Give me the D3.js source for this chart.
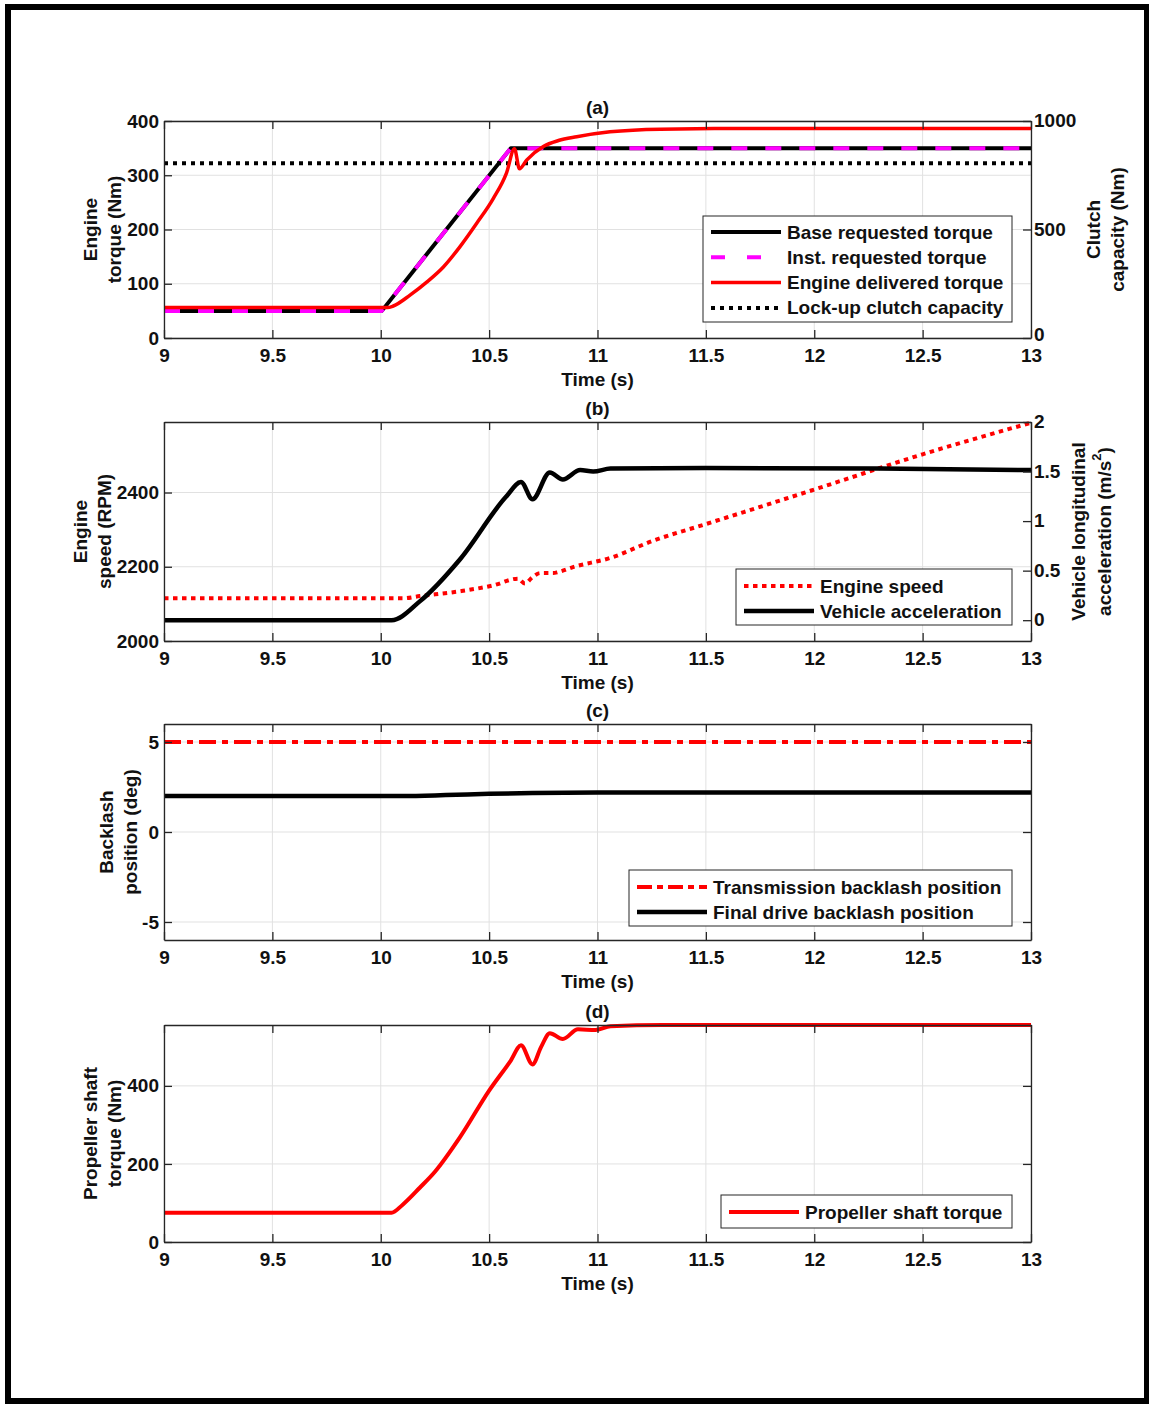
<!DOCTYPE html>
<html>
<head>
<meta charset="utf-8">
<script src="https://cdn.jsdelivr.net/npm/d3@7/dist/d3.min.js"></script>
<style>
  html, body { margin: 0; padding: 0; background: #fff; }
  svg { display: block; font-family: "Liberation Sans", Arial, sans-serif; font-weight: bold; }
</style>
</head>
<body>
<svg id="chart" width="1149" height="1404"></svg>
<script>
// ---- shared time axis ----
const timeDomain = [9, 13];
const timeTicks = [9, 9.5, 10, 10.5, 11, 11.5, 12, 12.5, 13];

// ---- (a) engine torque / clutch capacity ----
const reqTime = [9, 10.005, 10.6, 13];
const baseRequestedTorque = [50, 50, 350, 350];
const instRequestedTorque = [50, 50, 350, 350];
const delTime = [9, 10.03, 10.058, 10.135, 10.212, 10.289, 10.365, 10.442, 10.519, 10.58, 10.617, 10.64, 10.673, 10.75, 10.82, 10.904, 11.058, 11.289, 11.6, 13];
const engineDeliveredTorque = [56, 56, 59, 79, 103, 131, 168, 211, 257, 304, 349, 312, 328, 353, 364, 371, 380, 385, 386, 386];
const clutchTime = [9, 13];
const lockupClutchCapacity = [805, 805];
const torqueTicks = [0, 100, 200, 300, 400];
const clutchTicks = [0, 500, 1000];

// ---- (b) engine speed / vehicle acceleration ----
const speedTime = [9, 10.1, 10.18, 10.365, 10.52, 10.633, 10.665, 10.7, 10.735, 10.795, 10.82, 10.887, 11.06, 11.256, 11.5, 12, 12.5, 13];
const engineSpeed = [2115, 2115, 2121, 2134, 2150, 2168, 2155, 2172, 2183, 2183, 2186, 2199, 2224, 2270, 2315, 2408, 2503, 2588];
const accelTime = [9, 10.05, 10.18, 10.365, 10.58, 10.647, 10.7, 10.78, 10.84, 10.92, 10.98, 11.06, 11.5, 12.3, 13];
const vehicleAccel = [0, 0, 0.19, 0.613, 1.25, 1.394, 1.22, 1.49, 1.42, 1.515, 1.5, 1.53, 1.535, 1.53, 1.515];
const speedTicks = [2000, 2200, 2400];
const accelTicks = [0, 0.5, 1, 1.5, 2];

// ---- (c) backlash positions ----
const transTime = [9, 13];
const transBacklash = [5, 5];
const fdTime = [9, 10.1, 10.3, 10.5, 10.7, 11, 13];
const finalDriveBacklash = [2.0, 2.0, 2.05, 2.12, 2.17, 2.2, 2.2];
const backlashTicks = [-5, 0, 5];

// ---- (d) propeller shaft torque ----
const propTime = [9, 10.05, 10.1, 10.18, 10.25, 10.365, 10.5, 10.6, 10.647, 10.7, 10.74, 10.78, 10.84, 10.91, 10.99, 11.06, 11.3, 13];
const propellerTorque = [75, 75, 95, 139, 180, 268, 388, 465, 504, 455, 500, 535, 520, 545, 543, 553, 556, 556];
const propTicks = [0, 200, 400];

// ---- drawing ----
const svg = d3.select("#chart");
const AX = "#262626";
const GRID = "#e1e1e1";
const FONT = 19;
const left = 164, right = 1031;
const x = d3.scaleLinear(timeDomain, [left, right]);
const fmt = d => String(d);
const zip = (a, b) => a.map((v, i) => [v, b[i]]);

// outer figure frame
svg.append("rect").attr("x", 8).attr("y", 7).attr("width", 1139).attr("height", 1394)
  .attr("fill", "none").attr("stroke", "#000").attr("stroke-width", 6);

function panel(cfg) {
  const g = svg.append("g");
  const y = d3.scaleLinear(cfg.yDomain, [cfg.bottom, cfg.top]);
  const y2 = cfg.y2Domain ? d3.scaleLinear(cfg.y2Domain, [cfg.bottom, cfg.top]) : null;

  // grid
  const grid = g.append("g").attr("stroke", GRID).attr("stroke-width", 1);
  timeTicks.forEach(t => grid.append("line").attr("x1", x(t)).attr("x2", x(t)).attr("y1", cfg.top).attr("y2", cfg.bottom));
  cfg.yTicks.forEach(v => grid.append("line").attr("x1", left).attr("x2", right).attr("y1", y(v)).attr("y2", y(v)));

  // series
  const lines = g.append("g").attr("fill", "none").attr("stroke-linejoin", "round");
  cfg.series.forEach(s => {
    const sc = s.right ? y2 : y;
    const gen = d3.line().x(d => x(d[0])).y(d => sc(d[1])).curve(s.curve || d3.curveMonotoneX);
    lines.append("path").attr("d", gen(zip(s.t, s.v)))
      .attr("stroke", s.color).attr("stroke-width", s.width)
      .attr("stroke-dasharray", s.dash || null)
      .attr("stroke-linecap", s.cap || "butt");
  });

  // axes
  const styleAxis = sel => {
    sel.select(".domain").attr("stroke", AX).attr("stroke-width", 1.3);
    sel.selectAll(".tick line").attr("stroke", AX).attr("stroke-width", 1.3);
    sel.selectAll("text").attr("fill", "#111").attr("font-size", FONT).attr("font-weight", "bold")
      .attr("font-family", "'Liberation Sans', Arial, sans-serif");
  };
  g.append("g").attr("transform", `translate(0,${cfg.bottom})`)
    .call(d3.axisBottom(x).tickValues(timeTicks).tickFormat(fmt).tickSizeInner(-8).tickSizeOuter(0).tickPadding(11))
    .call(styleAxis);
  g.append("g").attr("transform", `translate(0,${cfg.top})`)
    .call(d3.axisTop(x).tickValues(timeTicks).tickFormat("").tickSizeInner(-8).tickSizeOuter(0))
    .call(styleAxis);
  g.append("g").attr("transform", `translate(${left},0)`)
    .call(d3.axisLeft(y).tickValues(cfg.yTicks).tickFormat(fmt).tickSizeInner(-8).tickSizeOuter(0).tickPadding(5))
    .call(styleAxis);
  if (y2) {
    const lowest = cfg.y2Ticks[0];
    g.append("g").attr("transform", `translate(${right},0)`)
      .call(d3.axisRight(y2).tickValues(cfg.y2Ticks).tickFormat(fmt).tickSizeInner(-8).tickSizeOuter(0).tickPadding(3))
      .call(styleAxis)
      .call(sel => sel.selectAll("text").attr("dy", d => (d === lowest && y2(d) >= cfg.bottom - 1) ? "0.12em" : "0.3em"));
  } else {
    g.append("g").attr("transform", `translate(${right},0)`)
      .call(d3.axisRight(y).tickValues(cfg.yTicks).tickFormat("").tickSizeInner(-8).tickSizeOuter(0))
      .call(styleAxis);
  }

  // titles
  const mid = (cfg.top + cfg.bottom) / 2;
  g.append("text").attr("x", (left + right) / 2).attr("y", cfg.top - 14)
    .attr("text-anchor", "middle").attr("dominant-baseline", "central")
    .attr("font-size", FONT).attr("fill", "#111").text(cfg.title);
  g.append("text").attr("x", (left + right) / 2).attr("y", cfg.bottom + 41)
    .attr("text-anchor", "middle").attr("dominant-baseline", "central")
    .attr("font-size", FONT).attr("fill", "#111").text("Time (s)");

  const vlabel = (lines, xs) => lines.forEach((ln, i) => {
    const t = g.append("text").attr("transform", `translate(${xs[i]},${mid}) rotate(-90)`)
      .attr("text-anchor", "middle").attr("dominant-baseline", "central")
      .attr("font-size", FONT).attr("fill", "#111");
    if (Array.isArray(ln)) {
      ln.forEach(part => {
        const ts = t.append("tspan").text(part.text);
        if (part.sup) ts.attr("baseline-shift", "super").attr("font-size", 13);
      });
    } else t.text(ln);
  });
  vlabel(cfg.yLabel, cfg.yLabelX);
  if (cfg.y2Label) vlabel(cfg.y2Label, cfg.y2LabelX);

  // legend
  const L = cfg.legend;
  const lg = g.append("g");
  lg.append("rect").attr("x", L.x).attr("y", L.y).attr("width", L.w).attr("height", L.h)
    .attr("fill", "#fff").attr("stroke", AX).attr("stroke-width", 1);
  L.items.forEach((it, i) => {
    const s = cfg.series[it];
    const cy = L.y + L.first + i * L.step;
    lg.append("line").attr("x1", L.x + 8).attr("x2", L.x + 78).attr("y1", cy).attr("y2", cy)
      .attr("stroke", s.color).attr("stroke-width", s.width)
      .attr("stroke-dasharray", s.legendDash || s.dash || null);
    lg.append("text").attr("x", L.x + 84).attr("y", cy).attr("dominant-baseline", "central")
      .attr("font-size", FONT).attr("fill", "#111").text(s.name);
  });
}

// (a)
panel({
  title: "(a)", top: 121, bottom: 338,
  yDomain: [0, 400], yTicks: torqueTicks,
  y2Domain: [0, 1000], y2Ticks: clutchTicks,
  yLabel: ["Engine", "torque (Nm)"], yLabelX: [90, 114],
  y2Label: ["Clutch", "capacity (Nm)"], y2LabelX: [1093, 1117],
  series: [
    { name: "Base requested torque", t: reqTime, v: baseRequestedTorque, color: "#000", width: 4, curve: d3.curveLinear },
    { name: "Inst. requested torque", t: reqTime, v: instRequestedTorque, color: "#ff00ff", width: 4, dash: "16,18", legendDash: "14,22", curve: d3.curveLinear },
    { name: "Lock-up clutch capacity", t: clutchTime, v: lockupClutchCapacity, color: "#000", width: 4, dash: "4,5", right: true, curve: d3.curveLinear },
    { name: "Engine delivered torque", t: delTime, v: engineDeliveredTorque, color: "#ff0000", width: 3.5 }
  ],
  legend: { x: 703, y: 216, w: 309, h: 106, first: 16, step: 25.3, items: [0, 1, 3, 2] }
});

// (b)
panel({
  title: "(b)", top: 422, bottom: 641,
  yDomain: [2000, 2590], yTicks: speedTicks,
  y2Domain: [-0.21, 2], y2Ticks: accelTicks,
  yLabel: ["Engine", "speed (RPM)"], yLabelX: [80, 104],
  y2Label: ["Vehicle longitudinal", [{ text: "acceleration (m/s" }, { text: "2", sup: true }, { text: ")" }]], y2LabelX: [1078, 1104],
  series: [
    { name: "Engine speed", t: speedTime, v: engineSpeed, color: "#ff0000", width: 4, dash: "4.5,4.5" },
    { name: "Vehicle acceleration", t: accelTime, v: vehicleAccel, color: "#000", width: 4.5, right: true }
  ],
  legend: { x: 736, y: 569, w: 276, h: 56, first: 17, step: 25, items: [0, 1] }
});

// (c)
panel({
  title: "(c)", top: 724, bottom: 940,
  yDomain: [-6, 6], yTicks: backlashTicks,
  yLabel: ["Backlash", "position (deg)"], yLabelX: [106, 130],
  series: [
    { name: "Transmission backlash position", t: transTime, v: transBacklash, color: "#ff0000", width: 4, dash: "17,6,6,6", legendDash: "15,5,6,5", curve: d3.curveLinear },
    { name: "Final drive backlash position", t: fdTime, v: finalDriveBacklash, color: "#000", width: 4.5 }
  ],
  legend: { x: 629, y: 870, w: 383, h: 56, first: 17, step: 25, items: [0, 1] }
});

// (d)
panel({
  title: "(d)", top: 1025, bottom: 1242,
  yDomain: [0, 556], yTicks: propTicks,
  yLabel: ["Propeller shaft", "torque (Nm)"], yLabelX: [90, 114],
  series: [
    { name: "Propeller shaft torque", t: propTime, v: propellerTorque, color: "#ff0000", width: 4 }
  ],
  legend: { x: 721, y: 1195, w: 291, h: 33, first: 17, step: 25, items: [0] }
});
</script>
</body>
</html>
